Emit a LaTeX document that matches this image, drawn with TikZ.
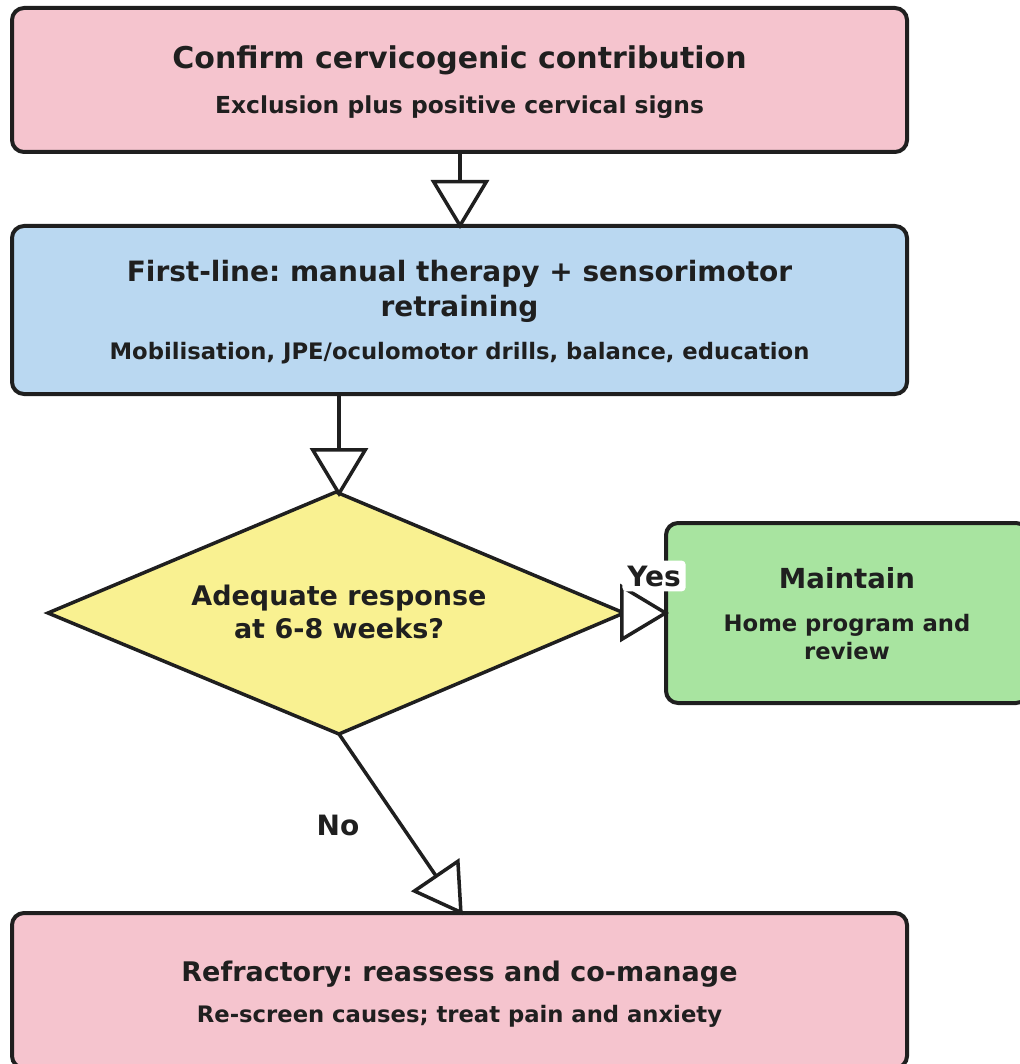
\documentclass[tikz,border=0pt]{standalone}
\usepackage{fontspec}
\setmainfont{DejaVu Sans}
\frenchspacing
\usetikzlibrary{arrows.meta}
\definecolor{inkc}{HTML}{1F1F1F}
\definecolor{pinkc}{HTML}{F5C4CE}
\definecolor{bluec}{HTML}{BAD8F1}
\definecolor{yellowc}{HTML}{F9F191}
\definecolor{greenc}{HTML}{A8E4A0}
\tikzset{
  x=1pt, y=-1pt,
  boxstyle/.style={draw=inkc, line width=4pt, rounded corners=12pt, inner sep=0pt},
  titletext/.style={anchor=base, inner sep=0pt, text=inkc, font=\bfseries\fontsize{28}{34}\selectfont},
  subtext/.style={anchor=base, inner sep=0pt, text=inkc, font=\bfseries\fontsize{22.7}{28}\selectfont},
  flow/.style={draw=inkc, line width=3.5pt, shorten >=-5pt,
    -{Triangle[length=49pt, width=58pt, fill=white, line width=3.5pt]}},
}
\begin{document}
\begin{tikzpicture}
\useasboundingbox (0,0) rectangle (1019,1064);

% boxes
\node[boxstyle, fill=pinkc, minimum width=895pt, minimum height=144pt] (confirm) at (459.5,80) {};
\node[boxstyle, fill=bluec, minimum width=895pt, minimum height=168pt] (first) at (459.5,310) {};
\draw[draw=inkc, line width=3.5pt, fill=yellowc, line join=miter]
  (336,492) coordinate (dtop) -- (624,613) coordinate (dright) -- (339,734) coordinate (dbot) -- (48,613) -- cycle;
\coordinate (decision) at (336,613);
\node[boxstyle, fill=greenc, minimum width=362pt, minimum height=180pt] (maintain) at (847,613) {};
\node[boxstyle, fill=pinkc, minimum width=895pt, minimum height=155pt] (refract) at (459.5,990.5) {};

% texts
\node[titletext, font=\bfseries\fontsize{30}{36}\selectfont] (t1) at (459.5,69) {Confirm cervicogenic contribution};
\node[subtext, font=\bfseries\fontsize{23.4}{28}\selectfont] (s1) at (459.5,114) {Exclusion plus positive cervical signs};
\node[titletext] (t2a) at (459.5,282) {First-line: manual therapy + sensorimotor};
\node[titletext] (t2b) at (459.5,316) {retraining};
\node[subtext] (s2) at (459.5,359) {Mobilisation, JPE/oculomotor drills, balance, education};
\node[titletext, font=\bfseries\fontsize{27}{32}\selectfont] (t3a) at (339,605) {Adequate response};
\node[titletext, font=\bfseries\fontsize{27}{32}\selectfont] (t3b) at (339,638) {at 6-8 weeks?};
\node[titletext, font=\bfseries\fontsize{27.6}{32}\selectfont] (t4) at (847,588) {Maintain};
\node[subtext] (s4a) at (847,631) {Home program and};
\node[subtext] (s4b) at (847,659) {review};
\node[titletext, font=\bfseries\fontsize{27}{32}\selectfont] (t5) at (459.5,981) {Refractory: reassess and co-manage};
\node[subtext] (s5) at (459.5,1022) {Re-screen causes; treat pain and anxiety};

% connectors
\draw[flow] (confirm.south -| 460,0) -- (first.north -| 460,0);
\draw[flow] (first.south -| 339,0) -- (dtop -| 339,0);
\draw[flow] (dright) -- (maintain.west);
\draw[flow] (dbot) -- (refract.north -| 460,0);

% branch labels
\node[fill=white, rounded corners=4pt, inner xsep=5pt, inner ysep=5pt, text=inkc, font=\bfseries\fontsize{28}{32}\selectfont] (yes) at (654,576) {Yes};
\node[inner sep=2pt, text=inkc, font=\bfseries\fontsize{28}{32}\selectfont] (no) at (338,825) {No};
\end{tikzpicture}
\end{document}
